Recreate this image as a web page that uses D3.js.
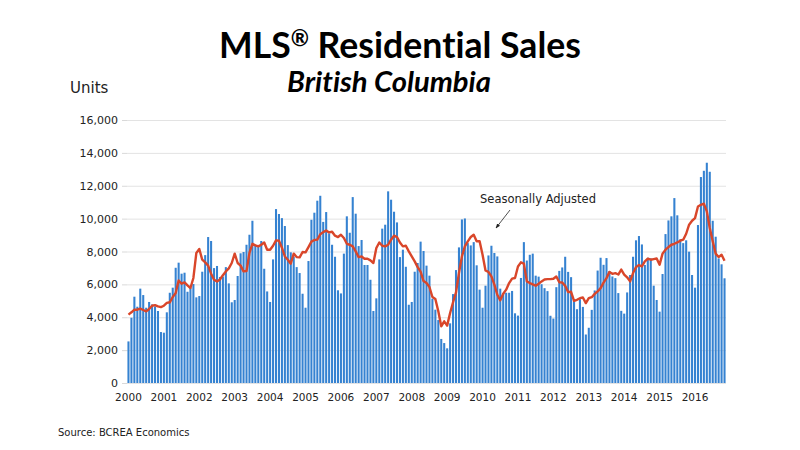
<!DOCTYPE html>
<html>
<head>
<meta charset="utf-8">
<script src="https://cdn.jsdelivr.net/npm/d3@7/dist/d3.min.js"></script>
<style>
  html, body { margin: 0; padding: 0; background: #fff; }
  #container { width: 800px; height: 450px; }
  text, tspan {
    font-variant-ligatures: none;
    font-feature-settings: "liga" 0, "clig" 0, "dlig" 0, "calt" 0;
  }
</style>
</head>
<body>
<div id="container"></div>
<script>
/**
 * Data: monthly MLS residential unit sales in BC, Jan 2000 - Nov 2016
 * one row per year
 */
const yearLabels = ["2000", "2001", "2002", "2003", "2004", "2005", "2006", "2007", "2008",
  "2009", "2010", "2011", "2012", "2013", "2014", "2015", "2016"];
const yTicks = [0, 2000, 4000, 6000, 8000, 10000, 12000, 14000, 16000];

// actual monthly sales (bars)
const unitSales = [
  2530, 3970, 5250, 4640, 5740, 5350, 4580, 4930, 4780, 4660, 4380, 3100, // 2000
  3060, 4300, 5490, 5800, 7010, 7320, 6650, 6710, 5550, 5800, 6020, 5210, // 2001
  5290, 6770, 7780, 8880, 8640, 6990, 7120, 6450, 6480, 7050, 6060, 4910, // 2002
  5050, 6510, 7890, 7970, 8410, 9020, 9870, 8350, 8290, 8640, 6950, 5570, // 2003
  4930, 7520, 10580, 10280, 10030, 9550, 8390, 7950, 7680, 7050, 6690, 5430, // 2004
  4580, 7420, 9930, 10360, 11090, 11390, 9800, 10400, 9100, 8410, 7680, 5640, // 2005
  5450, 7870, 10140, 9140, 11310, 10300, 8330, 8700, 7180, 7180, 6280, 4380, // 2006
  5150, 7520, 9390, 9630, 11660, 11150, 10420, 9770, 7660, 8110, 7070, 4760, // 2007
  4930, 6770, 7300, 8600, 8030, 7140, 6530, 5130, 4460, 3830, 2680, 2430, // 2008
  2110, 3630, 5410, 6870, 8250, 9950, 10010, 8510, 8370, 8570, 7160, 5680, // 2009
  4580, 5920, 7760, 8350, 7910, 7700, 5740, 5450, 5490, 5490, 5600, 4240, // 2010
  4100, 6390, 8570, 7450, 7800, 7870, 6530, 6470, 6010, 5770, 5590, 4090, // 2011
  3920, 5830, 6820, 7030, 7680, 6760, 6440, 5050, 4490, 5100, 4630, 2950, // 2012
  3360, 4450, 5630, 6840, 7620, 7190, 7600, 6800, 6480, 6380, 5470, 4390, // 2013
  4220, 5510, 6570, 7680, 8680, 8940, 8430, 7180, 7620, 7580, 5920, 5050, // 2014
  4340, 6630, 9060, 9890, 10140, 11250, 10200, 8740, 8510, 8680, 7990, 6570, // 2015
  5800, 9610, 12530, 12910, 13400, 12850, 9870, 8900, 7580, 7220, 6370 // 2016 (to Nov)
];

// seasonally adjusted sales (line)
const seasonallyAdjusted = [
  4160, 4300, 4460, 4460, 4520, 4440, 4360, 4500, 4700, 4740, 4660, 4620, // 2000
  4700, 4870, 4910, 5230, 5470, 6240, 6040, 6120, 5940, 5780, 6390, 7910, // 2001
  8150, 7500, 7340, 7140, 6650, 6280, 6180, 6300, 6560, 6790, 6970, 7300, // 2002
  7870, 7300, 7140, 6790, 6810, 7910, 8470, 8370, 8310, 8410, 8550, 8110, // 2003
  8110, 8350, 8680, 8660, 8230, 7700, 7500, 7260, 7870, 7660, 7640, 7970, // 2004
  7950, 8270, 8600, 8700, 8720, 9050, 9180, 9280, 9160, 9200, 8960, 8880, // 2005
  9020, 8820, 8470, 8410, 8310, 8010, 7660, 7700, 7560, 7560, 7460, 7300, // 2006
  8210, 8550, 8350, 8310, 8410, 8720, 8960, 8880, 8550, 8310, 8350, 8010, // 2007
  7700, 7400, 7050, 6770, 6200, 6080, 5840, 5230, 5110, 4360, 3450, 3750, // 2008
  3490, 4260, 4910, 5510, 6690, 7700, 8310, 8620, 8880, 9020, 8620, 8620, // 2009
  7800, 6850, 6750, 6490, 5980, 5370, 5030, 5430, 5680, 6080, 6350, 6390, // 2010
  7090, 7340, 7260, 6180, 6080, 6000, 5920, 6040, 6180, 6300, 6320, 6320, // 2011
  6340, 6480, 6130, 6110, 5910, 5530, 5550, 5000, 5060, 5160, 5200, 4860, // 2012
  5160, 5220, 5420, 5570, 5770, 6110, 6380, 6760, 6640, 6680, 6600, 6900, // 2013
  6600, 6430, 6180, 6690, 7050, 7180, 7090, 7400, 7560, 7500, 7540, 7580, // 2014
  7200, 7870, 8110, 8270, 8410, 8470, 8550, 8660, 8720, 9080, 9630, 9870, // 2015
  10030, 10740, 10840, 10910, 10440, 9430, 8620, 7870, 7660, 7800, 7440 // 2016 (to Nov)
];

/**
 * svg + layout
 */
const width = 800;
const height = 450;
const marginLeft = 127;
const marginRight = 74;
const plotTop = 120;
const plotBottom = 383;
const labelFont = "'DejaVu Sans', Verdana, sans-serif";

const svg = d3
  .select("#container")
  .append("svg")
  .attr("width", width)
  .attr("height", height)
  .attr("viewBox", [0, 0, width, height])
  .attr("font-family", labelFont);

// month index -> band
const I = d3.range(unitSales.length);
const xScale = d3
  .scaleBand()
  .domain(I)
  .range([marginLeft, width - marginRight])
  .paddingInner(0.3)
  .paddingOuter(0.15);
const xCenter = (i) => xScale(i) + xScale.bandwidth() / 2;

const yScale = d3.scaleLinear().domain([0, 16000]).range([plotBottom, plotTop]);

/**
 * grid + y axis
 */
svg
  .append("g")
  .attr("transform", `translate(${marginLeft},0)`)
  .call(d3.axisLeft(yScale).tickValues(yTicks).tickFormat(d3.format(",")).tickSize(5).tickPadding(4))
  .attr("font-family", labelFont)
  .attr("font-size", 11)
  .call((g) => g.select(".domain").remove())
  .call((g) => g.selectAll(".tick line").attr("stroke", "#d9d9d9"))
  .call((g) =>
    g
      .selectAll(".tick line")
      .clone()
      .attr("x1", 0)
      .attr("x2", width - marginRight - marginLeft)
      .attr("stroke", "#e3e3e3")
  )
  .call((g) => g.selectAll(".tick text").attr("fill", "#222"));

// "Units" label
svg
  .append("text")
  .attr("x", 70)
  .attr("y", 93)
  .attr("font-size", 15)
  .attr("fill", "#222")
  .text("Units");

/**
 * bars
 */
svg
  .append("g")
  .attr("fill", "#3582d1")
  .selectAll("rect")
  .data(I)
  .join("rect")
  .attr("x", (i) => xScale(i))
  .attr("width", xScale.bandwidth())
  .attr("y", (i) => yScale(unitSales[i]))
  .attr("height", (i) => yScale(0) - yScale(unitSales[i]));

/**
 * x axis: a year label under every January
 */
svg
  .append("g")
  .attr("font-size", 10.5)
  .attr("fill", "#222")
  .attr("text-anchor", "middle")
  .selectAll("text")
  .data(yearLabels)
  .join("text")
  .attr("x", (d, k) => xCenter(k * 12))
  .attr("y", 401)
  .text((d) => d);

/**
 * seasonally adjusted line
 */
const line = d3
  .line()
  .x((i) => xCenter(i))
  .y((i) => yScale(seasonallyAdjusted[i]));

svg
  .append("path")
  .attr("fill", "none")
  .attr("stroke", "#d9462a")
  .attr("stroke-width", 2.4)
  .attr("stroke-linejoin", "round")
  .attr("d", line(I));

/**
 * annotation
 */
svg
  .append("defs")
  .append("marker")
  .attr("id", "arrow")
  .attr("viewBox", "0 0 10 10")
  .attr("refX", 9)
  .attr("refY", 5)
  .attr("markerWidth", 6)
  .attr("markerHeight", 6)
  .attr("orient", "auto")
  .append("path")
  .attr("d", "M0,1L10,5L0,9Z")
  .attr("fill", "#222");

svg
  .append("text")
  .attr("x", 480)
  .attr("y", 203)
  .attr("font-size", 11.5)
  .attr("fill", "#222")
  .text("Seasonally Adjusted");

svg
  .append("line")
  .attr("x1", 510)
  .attr("y1", 210)
  .attr("x2", 496)
  .attr("y2", 228)
  .attr("stroke", "#222")
  .attr("stroke-width", 0.8)
  .attr("marker-end", "url(#arrow)");

/**
 * titles + source
 */
// shrink/grow a text so it spans the given width
function fitWidth(text, target) {
  const w = text.node().getComputedTextLength();
  const fs = parseFloat(text.attr("font-size"));
  text.attr("font-size", (fs * target) / w);
}

const title = svg
  .append("text")
  .attr("x", 400)
  .attr("y", 58)
  .attr("text-anchor", "middle")
  .attr("font-family", "Lato, 'Open Sans', sans-serif")
  .attr("font-weight", "bold")
  .attr("font-size", 34)
  .attr("fill", "#000");
title.append("tspan").text("MLS");
title.append("tspan").attr("font-size", "0.62em").attr("dy", -12).text("®");
title.append("tspan").attr("dy", 12).text(" Residential Sales");
fitWidth(title, 362);

const subtitle = svg
  .append("text")
  .attr("x", 389)
  .attr("y", 92)
  .attr("text-anchor", "middle")
  .attr("font-family", "Lato, 'Open Sans', sans-serif")
  .attr("font-weight", "bold")
  .attr("font-style", "italic")
  .attr("font-size", 26)
  .attr("fill", "#000")
  .text("British Columbia");
fitWidth(subtitle, 204);

svg
  .append("text")
  .attr("x", 58)
  .attr("y", 436)
  .attr("font-size", 10)
  .attr("fill", "#222")
  .text("Source: BCREA Economics");
</script>
</body>
</html>
